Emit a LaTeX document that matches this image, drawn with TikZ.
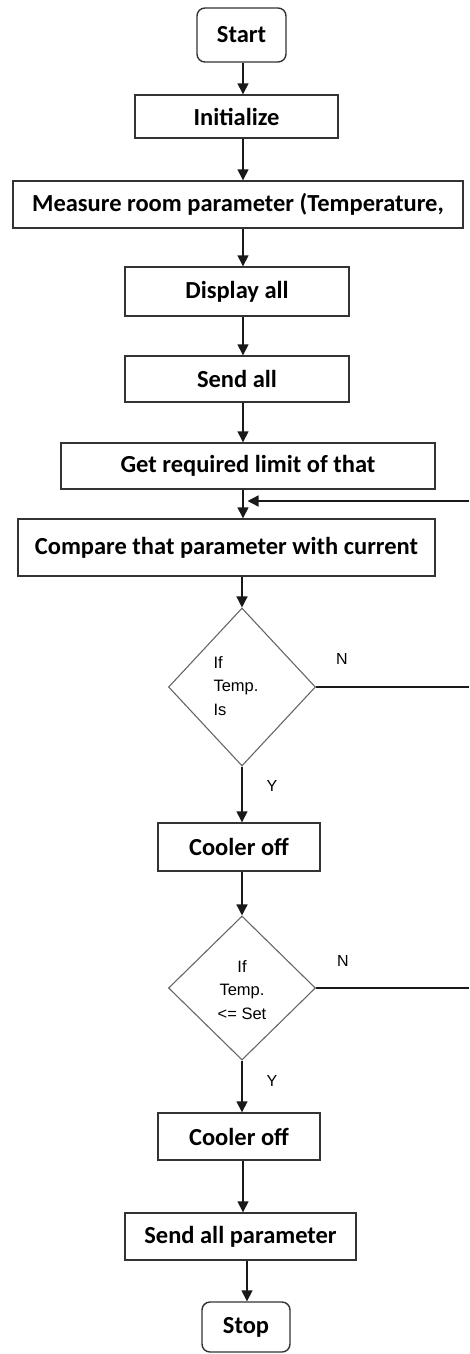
\documentclass[tikz,border=0pt]{standalone}
\usepackage{fontspec}
\setmainfont{Carlito}
\newfontfamily\smallfont{Liberation Sans}
\usetikzlibrary{shapes.geometric,arrows.meta}
\begin{document}
\begin{tikzpicture}[x=1pt,y=-1pt,
  box/.style={draw=black!80,line width=1.4pt,rectangle,inner sep=0pt,
    font=\bfseries\fontsize{24.5}{28}\selectfont},
  term/.style={box,rounded corners=8pt},
  dec/.style={draw=black!60,line width=1.1pt,diamond,inner sep=0pt},
  dectext/.style={font=\smallfont\fontsize{16.5}{23.5}\selectfont,inner sep=0pt},
  lbl/.style={font=\smallfont\fontsize{16}{18}\selectfont,inner sep=0pt},
  arr/.style={draw=black!90,line width=1.4pt,-{Triangle[length=11pt,width=11pt]}},
  ln/.style={draw=black!90,line width=1.4pt}]
\useasboundingbox (0,0) rectangle (469,1354);
\coordinate (ax) at (243,0);
\coordinate (ax2) at (247,0);
\coordinate (edge) at (469,0);

\node[term,minimum width=89pt,minimum height=54pt] (start) at (241.5,35) {Start};
\node[box,minimum width=203pt,minimum height=43pt] (init) at (236.5,116.5) {Initialize};
\node[box,minimum width=450pt,minimum height=47pt] (meas) at (238,204.5) {Measure room parameter (Temperature,};
\node[box,minimum width=224pt,minimum height=49pt] (disp) at (237,291.5) {Display all};
\node[box,minimum width=224pt,minimum height=46pt] (send) at (237,379) {Send all};
\node[box,minimum width=374pt,minimum height=46pt] (getreq) at (248,466) {Get required limit of that};
\node[box,minimum width=417pt,minimum height=57pt] (comp) at (226.5,547.5) {Compare that parameter with current};
\node[dec,minimum width=147pt,minimum height=158pt] (d1) at (242,687) {};
\node[dectext,align=left] (d1t) at (236,686) {If\\Temp.\\Is};
\node[box,minimum width=162pt,minimum height=48pt] (cool1) at (239,847) {Cooler off};
\node[dec,minimum width=147pt,minimum height=144pt] (d2) at (242,988) {};
\node[dectext,align=center] (d2t) at (242,990) {If\\Temp.\\<= Set};
\node[box,minimum width=162pt,minimum height=47pt] (cool2) at (239,1136.5) {Cooler off};
\node[box,minimum width=231pt,minimum height=47pt] (sendp) at (240.5,1236.5) {Send all parameter};
\node[term,minimum width=88pt,minimum height=50pt] (stop) at (246,1327) {Stop};

\node[lbl] (n1) at (342,659) {N};
\node[lbl] (y1) at (272,786) {Y};
\node[lbl] (n2) at (343,961) {N};
\node[lbl] (y2) at (272,1081) {Y};

\coordinate (fb) at (469,501);

\draw[arr] (start.south -| ax) -- (init.north -| ax);
\draw[arr] (init.south -| ax) -- (meas.north -| ax);
\draw[arr] (meas.south -| ax) -- (disp.north -| ax);
\draw[arr] (disp.south -| ax) -- (send.north -| ax);
\draw[arr] (send.south -| ax) -- (getreq.north -| ax);
\draw[arr] (getreq.south -| ax) -- (comp.north -| ax);
\draw[arr] (comp.south -| d1) -- (d1.north);
\draw[arr] (d1.south) -- (cool1.north -| d1);
\draw[arr] (cool1.south -| d2) -- (d2.north);
\draw[arr] (d2.south) -- (cool2.north -| d2);
\draw[arr] (cool2.south -| ax) -- (sendp.north -| ax);
\draw[arr] (sendp.south -| ax2) -- (stop.north -| ax2);

\draw[arr,shorten >=0.5pt] (fb) -- (fb -| ax2);
\draw[ln] (d1.east) -- (d1.east -| edge);
\draw[ln] (d2.east) -- (d2.east -| edge);
\end{tikzpicture}
\end{document}
